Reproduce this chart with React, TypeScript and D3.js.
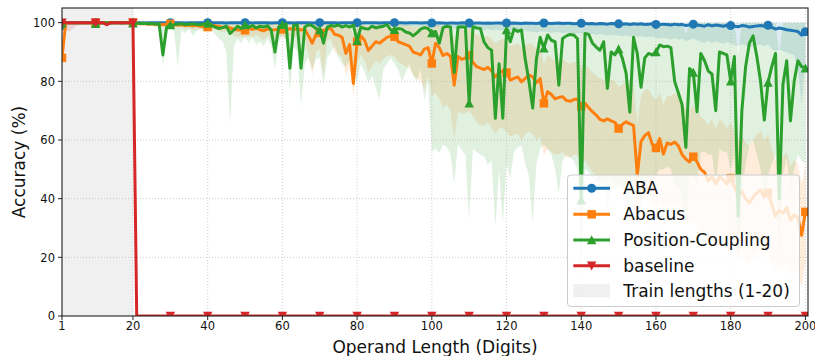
import React from 'react';
import * as d3 from 'd3';

// Operand lengths evaluated (1..200 digits)
const lengths = d3.range(1, 201);
const markerLengths = [1, 10, 20, 30, 40, 50, 60, 70, 80, 90, 100, 110, 120, 130, 140, 150, 160, 170, 180, 190, 200];
const xTicks = [1, 20, 40, 60, 80, 100, 120, 140, 160, 180, 200];
const yTicks = [0, 20, 40, 60, 80, 100];
const trainRange = [1, 20];

const abaMean = [
  99.0, 100, 100, 100, 100, 100, 100, 100, 100, 100,
  100, 100, 100, 100, 100, 100, 100, 100, 100, 100,
  100, 100, 99.9, 100, 100, 100, 100, 100, 100, 100,
  100, 100, 100, 99.9, 100, 100, 100, 100, 100, 100,
  100, 100, 100, 100, 99.9, 100, 100, 100, 100, 100,
  100, 99.9, 100, 100, 100, 100, 99.9, 100, 100, 100,
  100, 100, 99.9, 100, 100, 100, 100, 99.9, 100, 100,
  100, 100, 100, 100, 99.9, 100, 100, 100, 100, 100,
  99.9, 100, 100, 100, 100, 99.9, 100, 100, 100, 100,
  100, 100, 99.9, 100, 100, 100, 99.9, 100, 100, 99.9,
  99.9, 100, 99.9, 99.8, 99.9, 99.9, 99.8, 100, 99.9, 99.9,
  99.8, 99.9, 99.9, 99.8, 99.9, 99.8, 99.9, 99.9, 99.8, 99.9,
  99.8, 99.9, 99.8, 99.7, 99.9, 99.8, 99.8, 99.7, 99.9, 99.9,
  99.8, 99.7, 99.8, 99.9, 99.7, 99.8, 99.8, 99.6, 99.7, 99.8,
  99.7, 99.6, 99.7, 99.5, 99.7, 99.6, 99.5, 99.7, 99.6, 99.6,
  99.5, 99.6, 99.4, 99.6, 99.5, 99.6, 99.4, 99.5, 99.6, 99.4,
  99.3, 99.5, 99.4, 99.2, 99.5, 99.3, 99.4, 99.0, 99.3, 99.5,
  99.2, 99.0, 98.8, 99.3, 98.9, 99.2, 99.0, 98.8, 99.1, 99.0,
  98.8, 98.6, 99.0, 98.9, 98.5, 98.7, 98.9, 99.0, 98.8, 99.1,
  98.4, 97.8, 98.2, 97.9, 97.6, 97.4, 97.2, 97.0, 95.7, 96.9,
];

const abaLow = [
  97.0, 99.6, 99.7, 99.8, 99.8, 99.7, 99.8, 99.8, 99.7, 99.8,
  99.7, 99.8, 99.6, 99.7, 99.8, 99.7, 99.6, 99.8, 99.7, 99.6,
  99.7, 99.6, 99.5, 99.7, 99.6, 99.7, 99.6, 99.5, 99.7, 99.6,
  99.6, 99.5, 99.6, 99.4, 99.6, 99.5, 99.6, 99.5, 99.4, 99.6,
  99.5, 99.6, 99.5, 99.4, 99.3, 99.5, 99.4, 99.5, 99.6, 99.4,
  99.5, 99.3, 99.4, 99.5, 99.4, 99.3, 99.2, 99.4, 99.5, 99.3,
  99.4, 99.3, 99.2, 99.4, 99.3, 99.4, 99.2, 99.1, 99.3, 99.2,
  99.3, 99.2, 99.1, 99.3, 99.0, 99.2, 99.1, 99.2, 99.0, 99.1,
  99.0, 99.1, 99.0, 98.9, 99.1, 98.8, 99.0, 98.9, 98.8, 99.0,
  98.9, 98.8, 98.7, 98.9, 98.8, 98.7, 98.6, 98.8, 98.7, 98.6,
  98.6, 98.5, 98.4, 98.2, 98.4, 98.1, 98.0, 98.2, 98.0, 97.9,
  97.8, 97.9, 97.7, 97.5, 97.8, 97.4, 97.6, 97.5, 97.3, 97.5,
  97.2, 97.4, 97.0, 96.8, 97.2, 97.0, 96.9, 96.6, 97.0, 97.0,
  96.8, 96.5, 96.7, 96.8, 96.4, 96.6, 96.5, 96.2, 96.4, 96.5,
  96.3, 96.0, 96.2, 95.8, 96.1, 95.9, 95.6, 95.9, 95.7, 95.6,
  95.4, 95.6, 95.2, 95.5, 95.3, 95.4, 95.0, 95.2, 95.3, 94.9,
  94.6, 94.9, 94.6, 94.2, 94.8, 94.3, 94.5, 93.7, 94.2, 94.6,
  93.9, 93.5, 93.0, 93.8, 93.1, 93.6, 93.2, 92.8, 93.3, 93.0,
  92.5, 92.0, 92.6, 92.3, 91.6, 92.0, 92.4, 92.5, 92.0, 92.6,
  91.2, 90.2, 90.8, 90.3, 89.8, 89.4, 89.0, 84.0, 72.0, 86.0,
];

const abaHigh = [
  100, 100, 100, 100, 100, 100, 100, 100, 100, 100,
  100, 100, 100, 100, 100, 100, 100, 100, 100, 100,
  100, 100, 100, 100, 100, 100, 100, 100, 100, 100,
  100, 100, 100, 100, 100, 100, 100, 100, 100, 100,
  100, 100, 100, 100, 100, 100, 100, 100, 100, 100,
  100, 100, 100, 100, 100, 100, 100, 100, 100, 100,
  100, 100, 100, 100, 100, 100, 100, 100, 100, 100,
  100, 100, 100, 100, 100, 100, 100, 100, 100, 100,
  100, 100, 100, 100, 100, 100, 100, 100, 100, 100,
  100, 100, 100, 100, 100, 100, 100, 100, 100, 100,
  100, 100, 100, 100, 100, 100, 100, 100, 100, 100,
  100, 100, 100, 100, 100, 100, 100, 100, 100, 100,
  100, 100, 100, 100, 100, 100, 100, 100, 100, 100,
  100, 100, 100, 100, 100, 100, 100, 100, 100, 100,
  100, 100, 100, 100, 100, 100, 100, 100, 100, 100,
  100, 100, 100, 100, 100, 100, 100, 100, 100, 100,
  100, 100, 100, 100, 100, 100, 100, 100, 100, 100,
  100, 100, 100, 100, 100, 100, 100, 100, 100, 100,
  100, 100, 100, 100, 100, 100, 100, 100, 100, 100,
  100, 100, 100, 100, 100, 100, 100, 100, 100, 100,
];

const abacusMean = [
  88.0, 100, 100, 100, 100, 100, 100, 100, 100, 100,
  100, 100, 100, 100, 100, 100, 100, 100, 100, 100,
  99.8, 99.6, 99.7, 99.5, 99.6, 99.4, 99.5, 99.3, 99.5, 99.6,
  99.4, 99.2, 99.3, 99.0, 99.2, 98.9, 99.1, 98.8, 98.6, 98.5,
  98.9, 99.0, 98.7, 98.4, 98.6, 98.2, 97.8, 97.5, 97.6, 97.4,
  98.0, 97.7, 98.1, 97.6, 97.2, 97.9, 97.5, 97.6, 97.8, 97.7,
  97.5, 98.0, 97.6, 98.0, 97.5, 97.8, 95.5, 93.0, 96.0, 96.5,
  97.2, 97.8, 98.0, 96.0, 95.7, 95.0, 89.5, 92.5, 79.3, 93.5,
  95.5, 94.0, 90.5, 92.0, 93.5, 93.0, 94.0, 95.0, 95.5, 95.2,
  93.5, 93.0, 92.5, 92.0, 90.0, 89.5, 89.0, 91.0, 91.5, 86.1,
  93.0, 91.5, 88.8, 89.5, 88.5, 78.7, 88.5, 87.5, 88.0, 88.9,
  86.5, 85.0, 84.5, 84.0, 84.8, 83.5, 81.5, 83.0, 83.5, 83.0,
  80.4, 81.0, 81.5, 79.8, 81.0, 82.1, 81.5, 79.5, 80.9, 72.5,
  76.5, 75.5, 74.0, 74.5, 74.8, 73.5, 73.2, 73.8, 74.0, 71.5,
  72.5, 71.0, 69.6, 68.5, 67.0, 66.5, 67.2, 66.5, 66.0, 63.9,
  65.3, 66.2, 65.5, 65.0, 48.0, 59.5, 61.5, 62.5, 58.5, 57.3,
  60.5, 55.2, 59.0, 58.5, 59.3, 58.0, 55.0, 53.5, 52.5, 54.3,
  52.5, 50.0, 49.0, 46.0, 47.5, 45.0, 47.5, 46.5, 45.0, 47.0,
  44.0, 41.0, 42.5, 40.0, 38.5, 40.5, 42.0, 43.0, 40.5, 42.0,
  38.0, 34.0, 36.0, 35.0, 37.0, 32.7, 34.5, 33.5, 27.5, 35.5,
];

const abacusLow = [
  82.0, 99.5, 99.5, 99.5, 99.5, 99.5, 99.5, 99.5, 99.5, 99.5,
  99.5, 99.5, 99.5, 99.5, 99.5, 99.5, 99.5, 99.5, 99.5, 99.5,
  99.3, 99.0, 99.2, 98.8, 99.0, 98.5, 98.8, 98.5, 98.8, 99.0,
  98.7, 98.2, 98.5, 97.8, 98.2, 97.5, 97.9, 97.5, 97.2, 97.0,
  97.5, 97.8, 97.2, 96.8, 97.0, 96.5, 95.5, 95.0, 95.2, 94.5,
  95.5, 95.0, 95.8, 94.8, 94.0, 95.5, 94.5, 95.0, 95.2, 95.0,
  94.5, 95.5, 94.8, 95.3, 94.0, 94.5, 89.0, 82.0, 90.0, 91.0,
  82.0, 94.0, 94.5, 90.0, 89.0, 88.0, 82.0, 85.0, 75.0, 86.0,
  89.0, 87.0, 83.0, 85.0, 87.0, 86.0, 87.5, 88.5, 89.0, 88.5,
  86.5, 86.0, 85.0, 84.5, 82.0, 81.0, 80.0, 77.5, 82.0, 75.0,
  76.0, 74.0, 71.0, 72.0, 70.0, 60.0, 70.0, 69.0, 69.0, 70.0,
  68.0, 66.0, 65.0, 65.0, 66.0, 64.0, 62.0, 64.0, 64.0, 63.0,
  61.0, 62.0, 62.0, 60.0, 62.0, 63.0, 62.0, 60.0, 61.0, 55.0,
  57.0, 56.0, 55.0, 55.0, 56.0, 54.0, 54.0, 55.0, 55.0, 52.0,
  53.0, 51.0, 49.0, 48.0, 46.0, 46.0, 47.0, 46.0, 45.0, 43.0,
  44.0, 45.0, 44.0, 44.0, 30.0, 39.0, 41.0, 41.0, 38.0, 37.0,
  40.0, 35.0, 38.0, 37.0, 38.0, 37.0, 34.0, 32.0, 31.0, 33.0,
  31.0, 29.0, 28.0, 25.0, 27.0, 24.0, 26.0, 25.0, 24.0, 26.0,
  23.0, 20.0, 22.0, 19.0, 18.0, 20.0, 22.0, 23.0, 20.0, 22.0,
  18.0, 15.0, 17.0, 16.0, 18.0, 14.0, 16.0, 15.0, 10.0, 18.0,
];

const abacusHigh = [
  94.0, 100, 100, 100, 100, 100, 100, 100, 100, 100,
  100, 100, 100, 100, 100, 100, 100, 100, 100, 100,
  100, 100, 100, 100, 100, 100, 100, 100, 100, 100,
  100, 100, 100, 100, 100, 100, 100, 100, 100, 100,
  100, 100, 100, 100, 100, 100, 100, 100, 100, 100,
  100, 100, 100, 100, 100, 100, 100, 100, 100, 100,
  100, 100, 100, 100, 100, 100, 99.5, 99.0, 99.5, 99.5,
  100, 100, 100, 99.5, 99.5, 99.5, 98.5, 99.0, 96.0, 99.5,
  99.5, 99.5, 98.5, 99.0, 99.5, 99.0, 99.5, 99.5, 99.5, 99.5,
  99.5, 99.0, 99.0, 99.0, 98.5, 98.5, 98.0, 99.0, 99.0, 97.0,
  99.5, 99.0, 98.0, 98.5, 98.0, 94.0, 98.0, 97.5, 97.5, 98.0,
  97.0, 96.0, 95.5, 95.0, 95.5, 94.5, 93.0, 94.0, 94.5, 94.0,
  92.0, 92.5, 93.0, 91.5, 92.5, 93.0, 92.5, 91.0, 92.0, 86.0,
  89.0, 88.0, 87.0, 87.0, 87.5, 86.5, 86.0, 86.5, 87.0, 85.0,
  86.0, 84.5, 83.0, 82.0, 81.0, 80.5, 81.0, 80.5, 80.0, 78.0,
  79.0, 80.0, 79.5, 79.0, 66.0, 75.0, 77.0, 77.5, 75.0, 74.0,
  76.0, 72.0, 75.0, 75.0, 76.0, 75.0, 72.0, 71.0, 70.0, 72.0,
  70.0, 68.0, 67.0, 65.0, 67.0, 64.0, 67.0, 66.0, 64.0, 66.0,
  63.0, 60.0, 62.0, 59.0, 58.0, 60.0, 62.0, 63.0, 60.0, 62.0,
  57.0, 53.0, 55.0, 54.0, 56.0, 51.0, 53.0, 52.0, 45.0, 52.0,
];

const couplingMean = [
  99.8, 100, 100, 100, 100, 100, 100, 100, 100, 99.6,
  99.8, 100, 100, 99.9, 100, 100, 99.9, 100, 100, 99.8,
  99.8, 99.7, 99.8, 99.6, 99.7, 99.5, 99.6, 89.0, 98.5, 99.2,
  99.3, 99.5, 99.6, 99.4, 99.5, 99.6, 99.4, 99.3, 99.6, 99.7,
  99.2, 98.5, 98.0, 98.3, 98.8, 96.3, 97.5, 98.8, 98.0, 99.2,
  98.5, 99.0, 98.2, 98.8, 98.5, 99.0, 97.5, 90.0, 98.5, 99.3,
  99.5, 84.5, 99.0, 99.2, 84.5, 98.5, 99.3, 99.0, 98.0, 97.5,
  93.0, 98.5, 99.0, 98.8, 99.2, 98.5, 99.0, 98.5, 99.2, 93.8,
  98.5, 98.0, 97.8, 98.8, 98.2, 98.5, 98.8, 99.3, 97.5, 97.6,
  98.0, 97.8, 96.8, 96.5, 95.5, 96.5, 97.8, 98.3, 98.0, 96.5,
  97.0, 93.0, 98.3, 98.8, 98.5, 83.0, 98.5, 98.6, 98.5, 72.5,
  98.6, 98.2, 98.0, 93.4, 91.5, 90.6, 67.4, 86.0, 67.4, 97.5,
  93.5, 97.8, 97.0, 97.5, 87.6, 80.0, 70.9, 87.6, 95.0, 91.3,
  95.8, 94.0, 93.5, 78.7, 94.6, 95.5, 96.0, 95.8, 94.5, 39.5,
  96.3, 96.0, 93.0, 91.7, 90.6, 93.5, 77.6, 90.0, 89.0, 91.0,
  87.9, 82.8, 69.5, 95.0, 89.5, 78.0, 88.0, 89.5, 89.0, 90.0,
  92.4, 91.8, 92.0, 91.5, 80.0, 76.0, 72.0, 57.5, 84.4, 83.0,
  69.6, 89.5, 87.0, 83.5, 82.5, 70.0, 90.0, 89.5, 89.0, 80.0,
  88.5, 34.0, 70.0, 85.0, 93.0, 95.5, 88.5, 80.0, 66.8, 79.6,
  85.0, 89.5, 40.0, 79.0, 87.0, 66.5, 80.0, 87.0, 85.0, 84.5,
];

const couplingLow = [
  99.5, 99.6, 99.5, 99.6, 99.5, 99.6, 99.5, 99.6, 99.5, 99.2,
  99.5, 99.6, 99.5, 99.4, 99.6, 99.5, 99.4, 99.6, 99.5, 99.3,
  99.5, 99.0, 99.5, 99.0, 99.2, 99.0, 98.5, 85.0, 97.0, 98.5,
  97.0, 85.0, 97.5, 96.5, 97.8, 95.5, 97.0, 98.0, 97.5, 98.5,
  97.5, 96.0, 94.5, 93.5, 90.0, 65.7, 92.0, 94.5, 93.0, 95.5,
  93.0, 95.0, 92.5, 93.5, 92.0, 94.5, 92.0, 84.0, 93.0, 96.0,
  94.0, 76.4, 92.0, 90.0, 71.3, 86.0, 88.0, 84.0, 87.5, 88.0,
  79.0, 88.0, 90.0, 92.0, 88.0, 86.0, 85.0, 87.0, 83.5, 80.0,
  86.0, 83.0, 79.5, 82.0, 78.0, 73.6, 84.0, 86.0, 88.0, 86.0,
  84.0, 80.0, 83.0, 86.0, 82.0, 80.0, 84.0, 73.6, 80.0, 56.0,
  57.0, 55.5, 58.5, 57.5, 55.0, 45.0, 58.7, 56.5, 55.0, 32.7,
  57.0, 56.0, 55.0, 54.5, 51.5, 53.0, 30.4, 50.0, 31.5, 52.0,
  47.0, 56.0, 57.5, 58.0, 52.0, 48.0, 31.5, 52.0, 57.0, 58.5,
  57.0, 55.0, 50.0, 42.0, 53.0, 55.0, 54.0, 53.0, 50.0, 18.0,
  50.0, 49.0, 47.0, 46.0, 45.0, 45.0, 35.0, 44.0, 43.0, 45.0,
  44.0, 40.0, 32.0, 47.0, 45.0, 38.0, 45.0, 47.0, 46.0, 48.0,
  50.0, 50.0, 51.0, 50.0, 45.0, 44.0, 40.0, 30.0, 48.0, 47.0,
  45.0, 56.0, 56.0, 55.0, 55.0, 45.0, 57.0, 56.0, 56.0, 50.0,
  55.0, 15.0, 42.0, 52.0, 58.0, 60.0, 55.0, 50.0, 40.0, 48.0,
  52.0, 55.0, 18.0, 48.0, 54.0, 42.0, 50.0, 55.0, 53.0, 52.0,
];

const couplingHigh = [
  100, 100, 100, 100, 100, 100, 100, 100, 100, 100,
  100, 100, 100, 100, 100, 100, 100, 100, 100, 100,
  100, 100, 100, 100, 100, 100, 100, 100, 100, 100,
  100, 100, 100, 100, 100, 100, 100, 100, 100, 100,
  100, 100, 100, 100, 100, 100, 100, 100, 100, 100,
  100, 100, 100, 100, 100, 100, 100, 100, 100, 100,
  100, 100, 100, 100, 100, 100, 100, 100, 100, 100,
  100, 100, 100, 100, 100, 100, 100, 100, 100, 100,
  100, 100, 100, 100, 100, 100, 100, 100, 100, 100,
  100, 100, 100, 100, 100, 100, 100, 100, 100, 100,
  100, 100, 100, 100, 100, 100, 100, 100, 100, 100,
  100, 100, 100, 100, 100, 100, 100, 100, 100, 100,
  100, 100, 100, 100, 100, 100, 100, 100, 100, 100,
  100, 100, 100, 100, 100, 100, 100, 100, 100, 97.0,
  100, 100, 100, 100, 100, 100, 100, 100, 100, 100,
  100, 100, 100, 100, 100, 100, 100, 100, 100, 100,
  100, 100, 100, 100, 100, 100, 100, 96.0, 100, 100,
  100, 100, 100, 100, 100, 100, 100, 100, 100, 100,
  100, 89.5, 100, 100, 100, 100, 100, 100, 100, 100,
  100, 100, 89.5, 100, 100, 100, 100, 100, 100, 100,
];

const baselineMean = [
  100, 100, 100, 100, 100, 100, 100, 100, 100, 100,
  100, 100, 99.3, 100, 100, 100, 100, 100, 100, 100,
  0, 0, 0, 0, 0, 0, 0, 0, 0, 0,
  0, 0, 0, 0, 0, 0, 0, 0, 0, 0,
  0, 0, 0, 0, 0, 0, 0, 0, 0, 0,
  0, 0, 0, 0, 0, 0, 0, 0, 0, 0,
  0, 0, 0, 0, 0, 0, 0, 0, 0, 0,
  0, 0, 0, 0, 0, 0, 0, 0, 0, 0,
  0, 0, 0, 0, 0, 0, 0, 0, 0, 0,
  0, 0, 0, 0, 0, 0, 0, 0, 0, 0,
  0, 0, 0, 0, 0, 0, 0, 0, 0, 0,
  0, 0, 0, 0, 0, 0, 0, 0, 0, 0,
  0, 0, 0, 0, 0, 0, 0, 0, 0, 0,
  0, 0, 0, 0, 0, 0, 0, 0, 0, 0,
  0, 0, 0, 0, 0, 0, 0, 0, 0, 0,
  0, 0, 0, 0, 0, 0, 0, 0, 0, 0,
  0, 0, 0, 0, 0, 0, 0, 0, 0, 0,
  0, 0, 0, 0, 0, 0, 0, 0, 0, 0,
  0, 0, 0, 0, 0, 0, 0, 0, 0, 0,
  0, 0, 0, 0, 0, 0, 0, 0, 0, 0,
];

const baselineLow = [
  100, 97.5, 97.0, 98.0, 99.0, 99.5, 100, 100, 100, 100,
  100, 100, 98.8, 100, 100, 100, 100, 100, 100, 100,
  0, 0, 0, 0, 0, 0, 0, 0, 0, 0,
  0, 0, 0, 0, 0, 0, 0, 0, 0, 0,
  0, 0, 0, 0, 0, 0, 0, 0, 0, 0,
  0, 0, 0, 0, 0, 0, 0, 0, 0, 0,
  0, 0, 0, 0, 0, 0, 0, 0, 0, 0,
  0, 0, 0, 0, 0, 0, 0, 0, 0, 0,
  0, 0, 0, 0, 0, 0, 0, 0, 0, 0,
  0, 0, 0, 0, 0, 0, 0, 0, 0, 0,
  0, 0, 0, 0, 0, 0, 0, 0, 0, 0,
  0, 0, 0, 0, 0, 0, 0, 0, 0, 0,
  0, 0, 0, 0, 0, 0, 0, 0, 0, 0,
  0, 0, 0, 0, 0, 0, 0, 0, 0, 0,
  0, 0, 0, 0, 0, 0, 0, 0, 0, 0,
  0, 0, 0, 0, 0, 0, 0, 0, 0, 0,
  0, 0, 0, 0, 0, 0, 0, 0, 0, 0,
  0, 0, 0, 0, 0, 0, 0, 0, 0, 0,
  0, 0, 0, 0, 0, 0, 0, 0, 0, 0,
  0, 0, 0, 0, 0, 0, 0, 0, 0, 0,
];

const baselineHigh = [
  100, 100, 100, 100, 100, 100, 100, 100, 100, 100,
  100, 100, 100, 100, 100, 100, 100, 100, 100, 100,
  0, 0, 0, 0, 0, 0, 0, 0, 0, 0,
  0, 0, 0, 0, 0, 0, 0, 0, 0, 0,
  0, 0, 0, 0, 0, 0, 0, 0, 0, 0,
  0, 0, 0, 0, 0, 0, 0, 0, 0, 0,
  0, 0, 0, 0, 0, 0, 0, 0, 0, 0,
  0, 0, 0, 0, 0, 0, 0, 0, 0, 0,
  0, 0, 0, 0, 0, 0, 0, 0, 0, 0,
  0, 0, 0, 0, 0, 0, 0, 0, 0, 0,
  0, 0, 0, 0, 0, 0, 0, 0, 0, 0,
  0, 0, 0, 0, 0, 0, 0, 0, 0, 0,
  0, 0, 0, 0, 0, 0, 0, 0, 0, 0,
  0, 0, 0, 0, 0, 0, 0, 0, 0, 0,
  0, 0, 0, 0, 0, 0, 0, 0, 0, 0,
  0, 0, 0, 0, 0, 0, 0, 0, 0, 0,
  0, 0, 0, 0, 0, 0, 0, 0, 0, 0,
  0, 0, 0, 0, 0, 0, 0, 0, 0, 0,
  0, 0, 0, 0, 0, 0, 0, 0, 0, 0,
  0, 0, 0, 0, 0, 0, 0, 0, 0, 0,
];

type MarkerKind = 'circle' | 'square' | 'triangleUp' | 'triangleDown';

interface Series {
  label: string;
  color: string;
  mean: number[];
  low: number[];
  high: number[];
  marker: MarkerKind;
}

const series: Series[] = [
  { label: 'ABA', color: '#1f77b4', mean: abaMean, low: abaLow, high: abaHigh, marker: 'circle' },
  { label: 'Abacus', color: '#ff7f0e', mean: abacusMean, low: abacusLow, high: abacusHigh, marker: 'square' },
  { label: 'Position-Coupling', color: '#2ca02c', mean: couplingMean, low: couplingLow, high: couplingHigh, marker: 'triangleUp' },
  { label: 'baseline', color: '#d62728', mean: baselineMean, low: baselineLow, high: baselineHigh, marker: 'triangleDown' },
];

const WIDTH = 815;
const HEIGHT = 356;
const PLOT = { left: 62, right: 808, top: 8, bottom: 316 };
const FONT = '"DejaVu Sans", Verdana, sans-serif';

const xScale = d3.scaleLinear().domain([1, 200.7]).range([PLOT.left, PLOT.right]);
const yScale = d3.scaleLinear().domain([0, 105]).range([PLOT.bottom, PLOT.top]);

function Marker({ kind, cx, cy, color }: { kind: MarkerKind; cx: number; cy: number; color: string }) {
  const s = 8.5;
  const h = s / 2;
  switch (kind) {
    case 'circle':
      return <circle cx={cx} cy={cy} r={4.5} fill={color} />;
    case 'square':
      return <rect x={cx - h} y={cy - h} width={s} height={s} fill={color} />;
    case 'triangleUp':
      return <path d={`M${cx},${cy - h - 0.5}L${cx + h + 0.5},${cy + h}L${cx - h - 0.5},${cy + h}Z`} fill={color} />;
    case 'triangleDown':
      return <path d={`M${cx},${cy + h + 0.5}L${cx + h + 0.5},${cy - h}L${cx - h - 0.5},${cy - h}Z`} fill={color} />;
  }
}

export default function App() {
  const line = d3
    .line<number>()
    .x((_, i) => xScale(lengths[i]))
    .y((d) => yScale(d));

  const band = (low: number[], high: number[]) =>
    d3
      .area<number>()
      .x((_, i) => xScale(lengths[i]))
      .y0((_, i) => yScale(low[i]))
      .y1((_, i) => yScale(high[i]))(lengths.map((_, i) => i)) as string;

  const legendRows = [188.3, 214.3, 240, 265.7, 290.7];
  const legendX0 = 573.3;
  const legendX1 = 610;
  const legendTextX = 623.3;

  return (
    <svg
      width={WIDTH}
      height={HEIGHT}
      viewBox={`0 0 ${WIDTH} ${HEIGHT}`}
      style={{ position: 'absolute', left: 0, top: 0, background: '#fff' }}
      fontFamily={FONT}
    >
      <defs>
        <clipPath id="plot-clip">
          <rect x={PLOT.left} y={PLOT.top} width={PLOT.right - PLOT.left} height={PLOT.bottom - PLOT.top} />
        </clipPath>
      </defs>
      <rect x={0} y={0} width={WIDTH} height={HEIGHT} fill="#fff" />

      <g clipPath="url(#plot-clip)">
        {/* training length span */}
        <rect
          x={xScale(trainRange[0])}
          y={PLOT.top}
          width={xScale(trainRange[1]) - xScale(trainRange[0])}
          height={PLOT.bottom - PLOT.top}
          fill="#808080"
          fillOpacity={0.12}
        />

        {/* spread bands */}
        {series.map((s) => (
          <path key={`band-${s.label}`} d={band(s.low, s.high)} fill={s.color} fillOpacity={0.15} stroke="none" />
        ))}

        {/* grid */}
        {xTicks.map((t) => (
          <line
            key={`gx-${t}`}
            x1={xScale(t)}
            x2={xScale(t)}
            y1={PLOT.top}
            y2={PLOT.bottom}
            stroke="#b0b0b0"
            strokeWidth={0.8}
            strokeDasharray="1 2"
            strokeOpacity={0.8}
          />
        ))}
        {yTicks.map((t) => (
          <line
            key={`gy-${t}`}
            x1={PLOT.left}
            x2={PLOT.right}
            y1={yScale(t)}
            y2={yScale(t)}
            stroke="#b0b0b0"
            strokeWidth={0.8}
            strokeDasharray="1 2"
            strokeOpacity={0.8}
          />
        ))}

        {/* mean curves with markers */}
        {series.map((s) => (
          <g key={`line-${s.label}`}>
            <path d={line(s.mean) as string} fill="none" stroke={s.color} strokeWidth={3} strokeLinejoin="round" />
            {markerLengths.map((len) => (
              <Marker key={len} kind={s.marker} cx={xScale(len)} cy={yScale(s.mean[len - 1])} color={s.color} />
            ))}
          </g>
        ))}
      </g>

      {/* frame */}
      <rect
        x={PLOT.left}
        y={PLOT.top}
        width={PLOT.right - PLOT.left}
        height={PLOT.bottom - PLOT.top}
        fill="none"
        stroke="#222"
        strokeWidth={1.1}
      />

      {/* x axis */}
      {xTicks.map((t) => (
        <g key={`xt-${t}`}>
          <line x1={xScale(t)} x2={xScale(t)} y1={PLOT.bottom} y2={PLOT.bottom + 4} stroke="#222" strokeWidth={1} />
          <text x={xScale(t)} y={330} textAnchor="middle" fontSize={11.5} fill="#111">
            {t}
          </text>
        </g>
      ))}
      <text x={(PLOT.left + PLOT.right) / 2} y={353} textAnchor="middle" fontSize={17} fill="#111">
        Operand Length (Digits)
      </text>

      {/* y axis */}
      {yTicks.map((t) => (
        <g key={`yt-${t}`}>
          <line x1={PLOT.left - 4} x2={PLOT.left} y1={yScale(t)} y2={yScale(t)} stroke="#222" strokeWidth={1} />
          <text x={55} y={yScale(t) + 4.2} textAnchor="end" fontSize={11.5} fill="#111">
            {t}
          </text>
        </g>
      ))}
      <text
        transform={`translate(24.5, ${(PLOT.top + PLOT.bottom) / 2}) rotate(-90)`}
        textAnchor="middle"
        fontSize={17}
        fill="#111"
      >
        Accuracy (%)
      </text>

      {/* legend */}
      <g>
        <rect x={567.5} y={175} width={232} height={131.5} rx={3.5} fill="#fff" fillOpacity={0.8} stroke="#cccccc" strokeWidth={1} />
        {series.map((s, i) => {
          const cy = legendRows[i];
          return (
            <g key={`lg-${s.label}`}>
              <line x1={legendX0} x2={legendX1} y1={cy} y2={cy} stroke={s.color} strokeWidth={3} />
              <Marker kind={s.marker} cx={(legendX0 + legendX1) / 2} cy={cy} color={s.color} />
              <text x={legendTextX} y={cy + 6} fontSize={17} fill="#111">
                {s.label}
              </text>
            </g>
          );
        })}
        <rect x={legendX0} y={legendRows[4] - 6.5} width={legendX1 - legendX0} height={13} fill="#808080" fillOpacity={0.12} />
        <text x={legendTextX} y={legendRows[4] + 6} fontSize={17} fill="#111">
          Train lengths (1-20)
        </text>
      </g>
    </svg>
  );
}
